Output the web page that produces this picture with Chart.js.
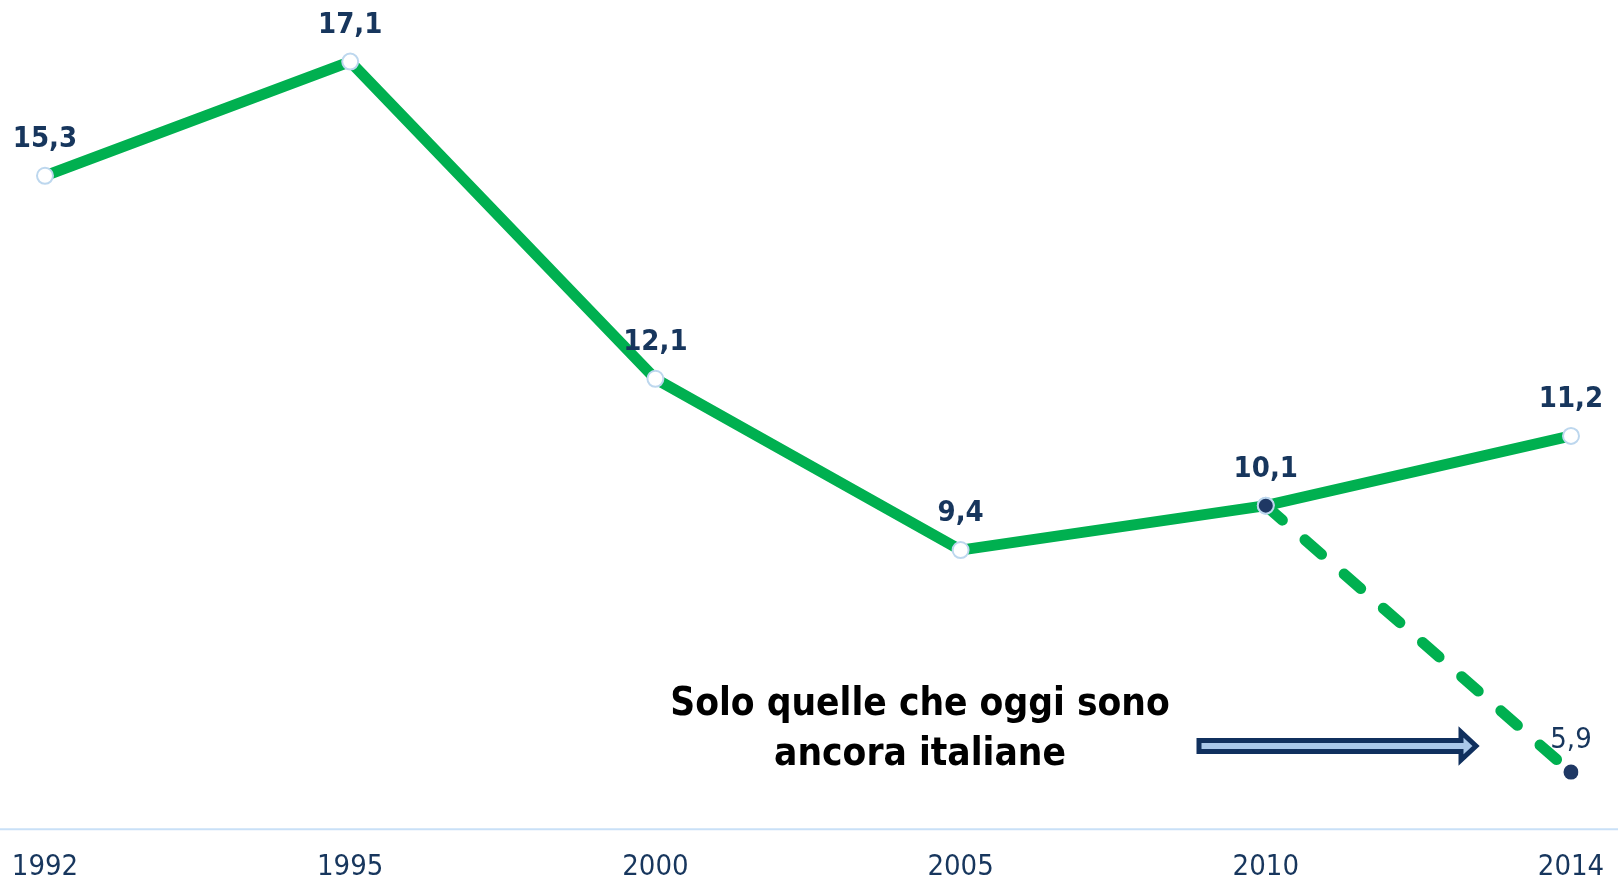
<!DOCTYPE html>
<html>
<head>
<meta charset="utf-8">
<script src="https://cdn.jsdelivr.net/npm/chart.js@4"></script>
<style>
  body { margin: 0; background: #fff; }
  #wrap { width: 1618px; height: 885px; position: relative; }
</style>
</head>
<body>
<div id="wrap"><canvas id="lineChart"></canvas></div>
<script>
const years = ["1992", "1995", "2000", "2005", "2010", "2014"];
const allFirms = [15.3, 17.1, 12.1, 9.4, 10.1, 11.2];
const stillItalian = [null, null, null, null, 10.1, 5.9];
const noteLines = ["Solo quelle che oggi sono", "ancora italiane"];

const FONT = "DejaVu Sans Condensed, DejaVu Sans, sans-serif";
const NAVY = '#17365d';
const GREEN = '#00b050';

const fmt = v => v.toFixed(1).replace('.', ',');

// axis line running across the whole width
const baseLine = {
    id: 'baseLine',
    beforeDatasetsDraw(chart) {
        const c = chart.ctx;
        const y = chart.chartArea.bottom;
        c.save();
        c.strokeStyle = '#c9e0f7';
        c.lineWidth = 2;
        c.beginPath();
        c.moveTo(0, y);
        c.lineTo(chart.width, y);
        c.stroke();
        c.restore();
    }
};

// value labels above each point
const valueLabels = {
    id: 'valueLabels',
    afterDatasetsDraw(chart) {
        const c = chart.ctx;
        c.save();
        c.textAlign = 'center';
        c.textBaseline = 'alphabetic';
        c.fillStyle = NAVY;
        chart.getDatasetMeta(1).data.forEach((pt, i) => {
            c.font = 'bold 29px ' + FONT;
            c.fillText(fmt(allFirms[i]), pt.x, pt.y - 29);
        });
        const meta = chart.getDatasetMeta(0);
        const last = meta.data[stillItalian.length - 1];
        c.font = '29px ' + FONT;
        c.fillText(fmt(stillItalian[stillItalian.length - 1]), last.x, last.y - 24);
        c.restore();
    }
};

// note text with an arrow pointing at the dashed series
const note = {
    id: 'note',
    afterDraw(chart) {
        const c = chart.ctx;
        c.save();
        c.fillStyle = '#000';
        c.textAlign = 'center';
        c.font = 'bold 38.5px ' + FONT;
        c.fillText(noteLines[0], 920, 715);
        c.fillText(noteLines[1], 920, 765);

        c.beginPath();
        c.moveTo(1199, 740.5);
        c.lineTo(1461, 740.5);
        c.lineTo(1461, 732);
        c.lineTo(1476, 746);
        c.lineTo(1461, 760);
        c.lineTo(1461, 751.5);
        c.lineTo(1199, 751.5);
        c.closePath();
        c.fillStyle = '#a9c8ea';
        c.fill();
        c.lineWidth = 5;
        c.strokeStyle = '#10305e';
        c.stroke();
        c.restore();
    }
};

new Chart(document.getElementById('lineChart'), {
    type: 'line',
    data: {
        labels: years,
        datasets: [
            {
                label: 'ancora italiane',
                data: stillItalian,
                borderColor: GREEN,
                borderWidth: 11,
                borderDash: [22, 30],
                borderCapStyle: 'round',
                pointRadius: [0, 0, 0, 0, 8, 7.5],
                pointBorderWidth: [0, 0, 0, 0, 2, 0],
                pointBackgroundColor: '#1f3864',
                pointBorderColor: '#bdd7ee',
                tension: 0
            },
            {
                label: 'totale',
                data: allFirms,
                borderColor: GREEN,
                borderWidth: 11,
                pointRadius: 8,
                pointBorderWidth: 2,
                pointBackgroundColor: '#ffffff',
                pointBorderColor: '#bdd7ee',
                tension: 0
            }
        ]
    },
    options: {
        responsive: true,
        maintainAspectRatio: false,
        animation: false,
        layout: { autoPadding: false, padding: { left: 45, right: 47, top: 4.5, bottom: -21 } },
        plugins: {
            legend: { display: false },
            tooltip: { enabled: false }
        },
        scales: {
            x: {
                grid: { display: false, drawTicks: false },
                border: { display: false },
                ticks: {
                    color: NAVY,
                    font: { family: FONT, size: 29 },
                    padding: 21,
                    maxRotation: 0,
                    autoSkip: false
                },
                // labels at the edges may overhang the plot area
                afterFit: scale => { scale.paddingLeft = 0; scale.paddingRight = 0; }
            },
            y: {
                display: false,
                min: 5,
                max: 18
            }
        }
    },
    plugins: [baseLine, valueLabels, note]
});
</script>
</body>
</html>
